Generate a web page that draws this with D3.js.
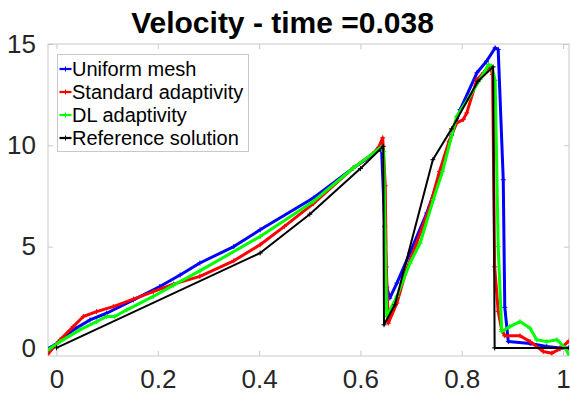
<!DOCTYPE html>
<html><head><meta charset="utf-8">
<script src="https://cdn.jsdelivr.net/npm/d3@7"></script>
<style>body{margin:0;background:#fff}svg{display:block}text{font-family:"Liberation Sans",Arial,Helvetica,sans-serif}</style>
</head><body>
<svg id="c" width="571" height="397"></svg>
<script>
const titleText = "Velocity - time =0.038";
const xTicks = [0, 0.2, 0.4, 0.6, 0.8, 1];
const xTickLabels = ["0", "0.2", "0.4", "0.6", "0.8", "1"];
const yTicks = [0, 5, 10, 15];
const yTickLabels = ["0", "5", "10", "15"];
const seriesNames = ["Uniform mesh", "Standard adaptivity", "DL adaptivity", "Reference solution"];
const seriesColors = ["#0000ff", "#ff0000", "#00ff00", "#000000"];

const uniformX = [-0.017, 0, 0.033, 0.066, 0.099, 0.152, 0.204, 0.244, 0.283, 0.35, 0.402, 0.507, 0.586, 0.625, 0.635, 0.642, 0.648, 0.652, 0.658, 0.672, 0.698, 0.731, 0.757, 0.78, 0.797, 0.830, 0.849, 0.866, 0.872, 0.882, 0.885, 0.892, 0.935, 0.968, 0.994, 1.012];
const uniformY = [-0.05, 0.2, 0.89, 1.38, 1.71, 2.37, 3.03, 3.6, 4.19, 5.0, 5.83, 7.40, 8.88, 9.55, 9.85, 9.7, 6.0, 3.0, 2.46, 3.2, 4.7, 6.66, 8.5, 10.5, 11.76, 13.58, 14.15, 14.81, 14.73, 8.3, 2.0, 0.31, 0.22, 0.07, 0.0, 0.0];

const standardX = [-0.017, 0.007, 0.033, 0.053, 0.079, 0.112, 0.152, 0.191, 0.231, 0.283, 0.35, 0.402, 0.45, 0.507, 0.586, 0.625, 0.636, 0.644, 0.649, 0.651, 0.655, 0.672, 0.691, 0.711, 0.737, 0.756, 0.775, 0.790, 0.803, 0.810, 0.830, 0.843, 0.856, 0.861, 0.865, 0.872, 0.879, 0.885, 0.915, 0.935, 0.961, 0.978, 0.994, 1.012];
const standardY = [-0.3, 0.4, 1.05, 1.55, 1.79, 2.04, 2.41, 2.78, 3.15, 3.53, 4.3, 5.09, 6.0, 7.12, 8.88, 9.6, 9.9, 10.37, 8.0, 4.0, 1.22, 2.21, 3.86, 5.18, 6.98, 8.7, 10.2, 11.1, 11.27, 11.6, 13.25, 13.58, 13.9, 13.5, 4.0, 1.8, 0.9, 0.6, 0.6, 0.31, -0.18, -0.26, -0.05, 0.35];

const dlX = [-0.017, 0.007, 0.046, 0.079, 0.099, 0.115, 0.139, 0.191, 0.231, 0.283, 0.402, 0.507, 0.586, 0.625, 0.640, 0.646, 0.649, 0.652, 0.672, 0.698, 0.718, 0.744, 0.762, 0.790, 0.816, 0.836, 0.853, 0.859, 0.866, 0.872, 0.879, 0.895, 0.915, 0.935, 0.948, 0.968, 0.988, 1.004, 1.012];
const dlY = [-0.1, 0.31, 0.89, 1.3, 1.55, 1.55, 1.88, 2.54, 3.1, 3.8, 5.50, 7.23, 8.88, 9.6, 9.9, 9.7, 5.0, 1.55, 2.54, 4.19, 5.18, 7.32, 8.7, 11.43, 12.42, 13.25, 13.99, 13.9, 13.2, 5.0, 0.81, 1.05, 1.3, 0.97, 0.4, 0.31, 0.4, 0.0, -0.35];

const referenceX = [0, 0.402, 0.5, 0.6, 0.645, 0.6466, 0.668, 0.743, 0.780, 0.832, 0.862, 0.865, 1.012];
const referenceY = [0, 4.68, 6.6, 8.85, 9.95, 1.14, 2.13, 9.29, 10.81, 13.16, 13.87, 0, 0];

const seriesX = [uniformX, standardX, dlX, referenceX];
const seriesY = [uniformY, standardY, dlY, referenceY];

const svg = d3.select("#c");
const L = 48, R = 569, T = 44, B = 356;
const x = d3.scaleLinear().domain([-0.0168, 1.0118]).range([L, R]);
const y = d3.scaleLinear().domain([-0.4, 15]).range([B, T]);
const axisColor = "#c8c8c8";
const labelColor = "#262626";

svg.append("rect").attr("x", L).attr("y", T).attr("width", R - L).attr("height", B - T)
  .attr("fill", "none").attr("stroke", axisColor).attr("stroke-width", 1);

const xAxisB = d3.axisBottom(x).tickValues(xTicks).tickSize(-5).tickFormat((d, i) => xTickLabels[i]).tickPadding(14);
const gx = svg.append("g").attr("transform", `translate(0,${B})`).call(xAxisB);
const xAxisT = d3.axisTop(x).tickValues(xTicks).tickSize(-5).tickFormat("");
const gxt = svg.append("g").attr("transform", `translate(0,${T})`).call(xAxisT);
const yAxisL = d3.axisLeft(y).tickValues(yTicks).tickSize(-5).tickFormat((d, i) => yTickLabels[i]).tickPadding(12);
const gy = svg.append("g").attr("transform", `translate(${L},0)`).call(yAxisL);
const yAxisR = d3.axisRight(y).tickValues(yTicks).tickSize(-5).tickFormat("");
const gyr = svg.append("g").attr("transform", `translate(${R},0)`).call(yAxisR);
[gx, gxt, gy, gyr].forEach(g => {
  g.select(".domain").remove();
  g.selectAll(".tick line").attr("stroke", axisColor);
  g.selectAll(".tick text").attr("fill", labelColor).style("font-size", "26px")
    .style("font-family", '"Liberation Sans", Arial, Helvetica, sans-serif');
});

svg.append("clipPath").attr("id", "clip").append("rect")
  .attr("x", L).attr("y", T).attr("width", R - L).attr("height", B - T);
const plot = svg.append("g").attr("clip-path", "url(#clip)");

const line = d3.line().x(d => x(d[0])).y(d => y(d[1]));
seriesNames.forEach((name, s) => {
  const pts = seriesX[s].map((v, i) => [v, seriesY[s][i]]);
  const g = plot.append("g");
  g.append("path").datum(pts).attr("d", line).attr("fill", "none")
    .attr("stroke", seriesColors[s]).attr("stroke-width", s === 3 ? 2 : 3)
    .attr("stroke-linejoin", "round");
  g.selectAll("path.m").data(pts).enter().append("path").attr("class", "m")
    .attr("d", d => { const px = x(d[0]), py = y(d[1]); return `M${px-2.5},${py}H${px+2.5}M${px},${py-2.5}V${py+2.5}`; })
    .attr("stroke", seriesColors[s]).attr("stroke-width", 1);
});

svg.append("text").attr("x", 282.5).attr("y", 33).attr("text-anchor", "middle")
  .style("font-size", "30px").style("font-weight", "bold").attr("fill", "#000").text(titleText);

const lg = svg.append("g");
lg.append("rect").attr("x", 57.5).attr("y", 54.5).attr("width", 191).attr("height", 97)
  .attr("fill", "#fff").attr("stroke", "#c8c8c8").attr("stroke-width", 1);
seriesNames.forEach((name, s) => {
  const cy = 69 + s * 23;
  lg.append("line").attr("x1", 59.5).attr("x2", 71.5).attr("y1", cy).attr("y2", cy)
    .attr("stroke", seriesColors[s]).attr("stroke-width", 2.2);
  lg.append("path").attr("d", `M63,${cy}H68M65.5,${cy-2.5}V${cy+2.5}`).attr("stroke", seriesColors[s]).attr("stroke-width", 1);
  lg.append("text").attr("x", 72).attr("y", cy + 7).style("font-size", "20px").attr("fill", "#000").text(name);
});
</script>
</body></html>
